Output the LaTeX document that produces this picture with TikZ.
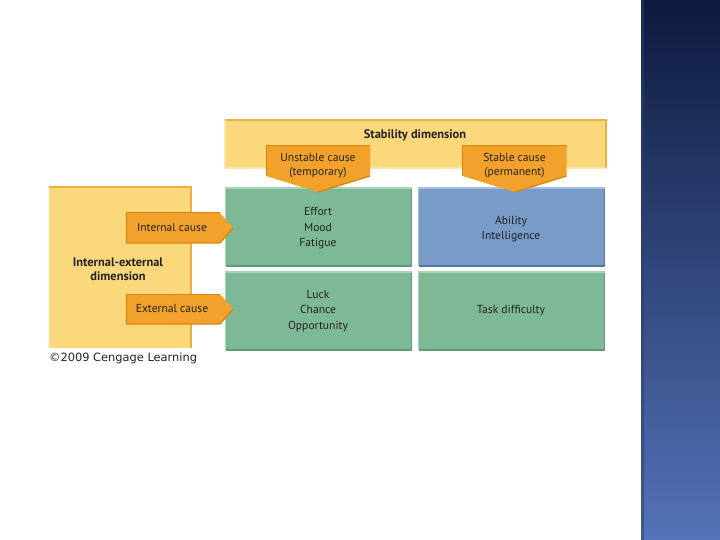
\documentclass[tikz,border=0pt]{standalone}
\usepackage{fontspec}
\setmainfont{PT Sans}
\newfontfamily\cfont{DejaVu Sans}
\definecolor{yel}{HTML}{FCD87C}
\definecolor{yeld}{HTML}{EDB040}
\definecolor{yell}{HTML}{FDE6A8}
\definecolor{org}{HTML}{F2A22A}
\definecolor{orgd}{HTML}{D9870F}
\definecolor{grn}{HTML}{7DB996}
\definecolor{grnd}{HTML}{5E9A78}
\definecolor{grnl}{HTML}{A9D4BB}
\definecolor{blu}{HTML}{789BC8}
\definecolor{blud}{HTML}{5675A3}
\definecolor{blul}{HTML}{A5BFE0}
\definecolor{txt}{HTML}{222222}
\definecolor{navtop}{HTML}{0E1A3E}
\definecolor{navbot}{HTML}{5473B8}
\begin{document}
\begin{tikzpicture}[x=1pt,y=-1pt,
  cell/.style={rectangle,inner sep=0,outer sep=0},
  lbl/.style={font=\fontsize{11.6}{15.5}\selectfont,text=txt,align=center,inner sep=0},
  blbl/.style={font=\bfseries\fontsize{12.4}{14}\selectfont,text=txt,align=center,inner sep=0},
  darkedge/.style={line width=1.6pt},
  lightedge/.style={line width=1.2pt}]
\useasboundingbox (0,0) rectangle (720,540);
\fill[white] (0,0) rectangle (720,540);
% right bar
\shade[top color=navtop,bottom color=navbot] (641,0) rectangle (720,540);
\fill[navtop!60!navbot,opacity=0.5] (641,0) rectangle (644,540);

% stability dimension box
\node[cell,fill=yel,minimum width=381pt,minimum height=48pt] (stab) at (415.5,144) {};
\draw[yeld,darkedge] (stab.south east) -- (stab.north east) -- (stab.north west);
\draw[yell,lightedge] (stab.north west) -- (stab.south west) -- (stab.south east);
\node[blbl] (stabt) at (415,135) {Stability dimension};

% left box
\node[cell,fill=yel,minimum width=142pt,minimum height=161pt] (ie) at (120,267.5) {};
\draw[yeld,darkedge] (ie.south east) -- (ie.north east) -- (ie.north west);
\node[blbl] (iet) at (118,269) {Internal-external\\dimension};

% grid cells
\node[cell,fill=grn,minimum width=186pt,minimum height=78pt] (c11) at (318.5,227) {};
\node[cell,fill=blu,minimum width=186pt,minimum height=78pt] (c12) at (511.5,227) {};
\node[cell,fill=grn,minimum width=186pt,minimum height=78pt] (c21) at (318.5,311) {};
\node[cell,fill=grn,minimum width=186pt,minimum height=78pt] (c22) at (511.5,311) {};
\foreach \c/\d/\l in {c11/grnd/grnl,c12/blud/blul,c21/grnd/grnl,c22/grnd/grnl}{
  \draw[\d,darkedge] (\c.north east) -- (\c.south east) -- (\c.south west);
  \draw[\l,lightedge] (\c.south west) -- (\c.north west) -- (\c.north east);
}
\node[lbl] (t11) at (318,228.5) {Effort\\Mood\\Fatigue};
\node[lbl] (t12) at (511,229) {Ability\\Intelligence};
\node[lbl] (t21) at (318,311) {Luck\\Chance\\Opportunity};
\node[lbl] (t22) at (511,311) {Task difficulty};

% top tabs
\foreach \cx/\nm in {318/tabu,514.5/tabs}{
  \fill[org] (\cx-52,146) -- (\cx+52,146) -- (\cx+52,176) -- (\cx,192) -- (\cx-52,176) -- cycle;
  \draw[orgd,line width=1pt] (\cx-52,176) -- (\cx-52,146) -- (\cx+52,146);
  \draw[orgd,line width=1.4pt] (\cx+52,176) -- (\cx,192);
}
\node[lbl,font=\fontsize{11.6}{14}\selectfont] (tu) at (318,166) {Unstable cause\\(temporary)};
\node[lbl,font=\fontsize{11.6}{14}\selectfont] (ts) at (514.5,166) {Stable cause\\(permanent)};

% left tabs
\foreach \cy in {228,309}{
  \fill[org] (126,\cy-15) -- (220,\cy-15) -- (233,\cy) -- (220,\cy+15) -- (126,\cy+15) -- cycle;
  \draw[orgd,line width=1pt] (126,\cy+15) -- (126,\cy-15) -- (220,\cy-15);
  \draw[orgd,line width=1.4pt] (233,\cy) -- (220,\cy+15) -- (126,\cy+15);
}
\node[lbl] (ic) at (172,228) {Internal cause};
\node[lbl] (ec) at (172,309) {External cause};

% copyright
\node[anchor=west,inner sep=0,text=txt,font=\cfont\fontsize{11.4}{12}\selectfont] (copy) at (49,358.5) {©2009 Cengage Learning};
\end{tikzpicture}
\end{document}
